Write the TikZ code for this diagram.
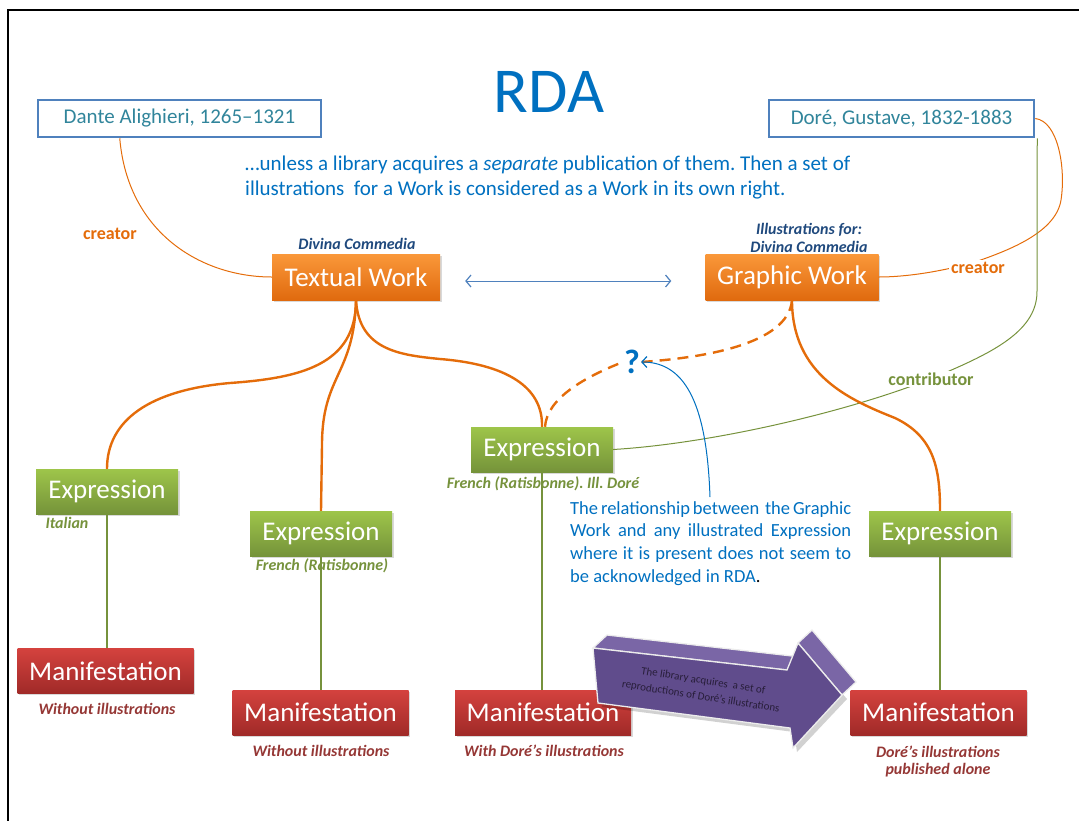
\documentclass[tikz,border=0pt]{standalone}
\usepackage{fontspec}
\setmainfont{Carlito}
\usetikzlibrary{shadows,arrows.meta,calc}
\frenchspacing

\definecolor{rdaBlue}{RGB}{0,112,192}
\definecolor{boxBlue}{RGB}{79,129,189}
\definecolor{personText}{RGB}{49,133,155}
\definecolor{linkOrange}{RGB}{228,108,10}
\definecolor{linkGreen}{RGB}{118,146,60}
\definecolor{workTop}{RGB}{250,152,58}
\definecolor{workBot}{RGB}{224,106,14}
\definecolor{exprTop}{RGB}{158,197,74}
\definecolor{exprBot}{RGB}{117,147,58}
\definecolor{maniTop}{RGB}{212,66,62}
\definecolor{maniBot}{RGB}{160,42,40}
\definecolor{lblRed}{RGB}{149,55,53}
\definecolor{lblNavy}{RGB}{31,73,125}
\definecolor{arrowFront}{RGB}{96,76,140}
\definecolor{arrowTop}{RGB}{122,102,166}
\definecolor{arrowText}{RGB}{40,30,58}

\begin{document}
\begin{tikzpicture}[x=1pt,y=-1pt,
  entity/.style={rectangle, inner sep=0pt, minimum height=45pt, text=white,
    font=\fontsize{27}{30}\selectfont,
    drop shadow={opacity=0.3, shadow xshift=1.5pt, shadow yshift=-1.5pt}},
  work/.style={entity, minimum height=46pt, top color=workTop, bottom color=workBot},
  expr/.style={entity, minimum width=142pt, top color=exprTop, bottom color=exprBot},
  mani/.style={entity, minimum width=176pt, top color=maniTop, bottom color=maniBot},
  person/.style={rectangle, draw=boxBlue, line width=2.5pt, fill=white, inner sep=0pt,
    minimum height=37pt, text=personText, font=\fontsize{21}{25}\selectfont},
  lbl/.style={inner sep=1pt, font=\fontsize{16}{20}\selectfont\bfseries\itshape},
  greenlbl/.style={lbl, text=linkGreen},
  redlbl/.style={lbl, text=lblRed},
  navylbl/.style={lbl, text=lblNavy},
  rolelbl/.style={inner sep=2pt, font=\fontsize{18}{20}\selectfont\bfseries},
  thinlink/.style={line width=1pt},
  treelink/.style={draw=linkOrange, line width=2.4pt},
  dashlink/.style={draw=linkOrange, line width=2.4pt, dash pattern=on 11pt off 7pt},
  stemlink/.style={draw=linkGreen, line width=2pt},
  barb/.tip={Straight Barb[length=5pt,width=12pt,line width=1.2pt]}
]
\useasboundingbox (0,0) rectangle (1079,820);

% page frame
\draw[line width=2pt] (8,822) -- (8,10) -- (1081,10);

% title and explanation
\node[text=rdaBlue, font=\fontsize{64}{70}\selectfont, inner sep=0pt] (title) at (549,92) {RDA};
\node[text=rdaBlue, font=\fontsize{21}{25}\selectfont, align=left, anchor=north west, inner sep=0pt] (intro) at (245,156)
  {\dots unless a library acquires a \textit{separate} publication of them. Then a set of\\
   illustrations\ \ for a Work is considered as a Work in its own right.};

% agents
\node[person, minimum width=283pt] (dante) at (179.5,118.5) {Dante Alighieri, 1265–1321};
\node[person, minimum width=265pt] (dore) at (901.5,118.5) {Doré, Gustave, 1832-1883};

% works
\node[work, minimum width=168pt] (tw) at (356,277) {Textual Work};
\node[work, minimum width=173pt] (gw) at (792,277) {Graphic Work};
\node[navylbl] (twlbl) at (357,244) {Divina Commedia};
\node[navylbl, align=center] (gwlbl) at (809,238) {Illustrations for:\\[-2pt]Divina Commedia};

% expressions
\node[expr] (e1) at (107,491.5) {Expression};
\node[expr] (e2) at (321,533.5) {Expression};
\node[expr] (e3) at (542,449.5) {Expression};
\node[expr] (e4) at (940,533.5) {Expression};
\node[greenlbl] (e1lbl) at (67,523) {Italian};
\node[greenlbl] (e2lbl) at (322,566) {French (Ratisbonne)};
\node[greenlbl] (e3lbl) at (543,484) {French (Ratisbonne). Ill. Doré};

% manifestations
\node[mani] (m1) at (105.5,671) {Manifestation};
\node[mani] (m2) at (320.5,712.5) {Manifestation};
\node[mani] (m3) at (543,712.5) {Manifestation};
\node[mani] (m4) at (938.5,712.5) {Manifestation};
\node[redlbl] (m1lbl) at (107,709) {Without illustrations};
\node[redlbl] (m2lbl) at (321,751) {Without illustrations};
\node[redlbl] (m3lbl) at (544,751) {With Doré’s illustrations};
\node[redlbl, align=center] (m4lbl) at (938,761) {Doré’s illustrations\\[-3pt]published alone};

% open question
\node[text=rdaBlue, font=\fontsize{34}{36}\selectfont\bfseries, inner sep=1pt] (q) at (632,362) {?};
\node[text=rdaBlue, font=\fontsize{18.5}{22.7}\selectfont, text width=281pt, align=justify,
  anchor=north west, inner sep=0pt] (note) at (570,501)
  {The relationship between\ \ the Graphic\linebreak Work and any illustrated Expression\linebreak
   where it is present does not seem to\linebreak be acknowledged in RDA\textcolor{black}{.}};

% creator links
\draw[thinlink, linkOrange] ($(dante.south west)+(83,0)$) .. controls +(8,95) and +(-70,0) .. (tw.west);
\draw[thinlink, linkOrange] (dore.east) .. controls (1058,121) and (1066,168) .. (1061,200)
  .. controls (1056,232) and (1010,250) .. (975,262) .. controls (940,272) and (905,277) .. (gw.east);
\node[rolelbl, text=linkOrange] (crL) at (110,234) {creator};
\node[rolelbl, text=linkOrange, fill=white] (crR) at (978,268) {creator};

% contributor link
\draw[thinlink, linkGreen] ($(dore.south east)+(2,0)$) -- (1037,290)
  .. controls (1038,330) and (995,352) .. (935,377)
  .. controls (860,408) and (720,443) .. (e3.east);
\node[rolelbl, text=linkGreen, fill=white] (contrib) at (931,379) {contributor};

% work to work
\draw[thinlink, boxBlue, {barb}-{barb}] ($(tw.east)+(25,4)$) -- ($(gw.west)+(-34,4)$);

% work to expression tree
\draw[treelink] (tw.south) .. controls +(0,65) and (300,378) .. (230,383)
  .. controls (150,390) and (107,420) .. (e1.north);
\draw[treelink] (tw.south) .. controls +(-2,75) and +(0,-70) .. (322,445) -- (e2.north);
\draw[treelink] (tw.south) .. controls +(3,50) and (400,355) .. (440,359)
  .. controls (515,365) and (543,392) .. (e3.north);
\draw[treelink] (gw.south) .. controls +(0,75) and (850,400) .. (895,418)
  .. controls (935,437) and (940,470) .. (e4.north);

% the unrecorded relationship
\draw[dashlink] (gw.south) .. controls +(-4,45) and (700,358) .. (q.east);
\draw[dashlink] ($(e3.north)+(3,0)$) .. controls (547,398) and (585,377) .. (q.west);
\draw[thinlink, rdaBlue, -{Straight Barb[length=5pt,width=11pt,line width=1.2pt]}]
  ($(note.north west)+(140,-4)$) .. controls (707,410) and (688,362) .. (q.east);

% expression to manifestation stems
\draw[stemlink] (e1.south) -- (e1.south |- m1.north);
\draw[stemlink] (e2.south) -- (e2.south |- m2.north);
\draw[stemlink] (e3.south) -- (e3.south |- m3.north);
\draw[stemlink] (e4.south) -- (e4.south |- m4.north);

% block arrow: acquisition of the illustrations alone
\fill[black, opacity=0.18] (597,652) -- (791,674) -- (802,647) -- (847,699) -- (797,752) -- (794,732) -- (602,707) -- cycle;
\filldraw[fill=arrowTop, draw=white!85!gray, line width=1.3pt]
  (593,648) -- (607,635) -- (801,657) -- (787,670) -- cycle;
\filldraw[fill=arrowTop, draw=white!85!gray, line width=1.3pt]
  (798,643) -- (812,630) -- (856,682) -- (842,695) -- cycle;
\filldraw[fill=arrowFront, draw=white!85!gray, line width=1.3pt]
  (593,648) -- (787,670) -- (798,643) -- (842,695) -- (793,748) -- (790,728) -- (598,703) -- cycle;
\node[text=arrowText, font=\fontsize{11}{16}\selectfont, align=center, rotate=-9, inner sep=0pt]
  (acq) at (702,689) {The library acquires\ \ a set of\\reproductions of Doré’s illustrations};
\end{tikzpicture}
\end{document}
